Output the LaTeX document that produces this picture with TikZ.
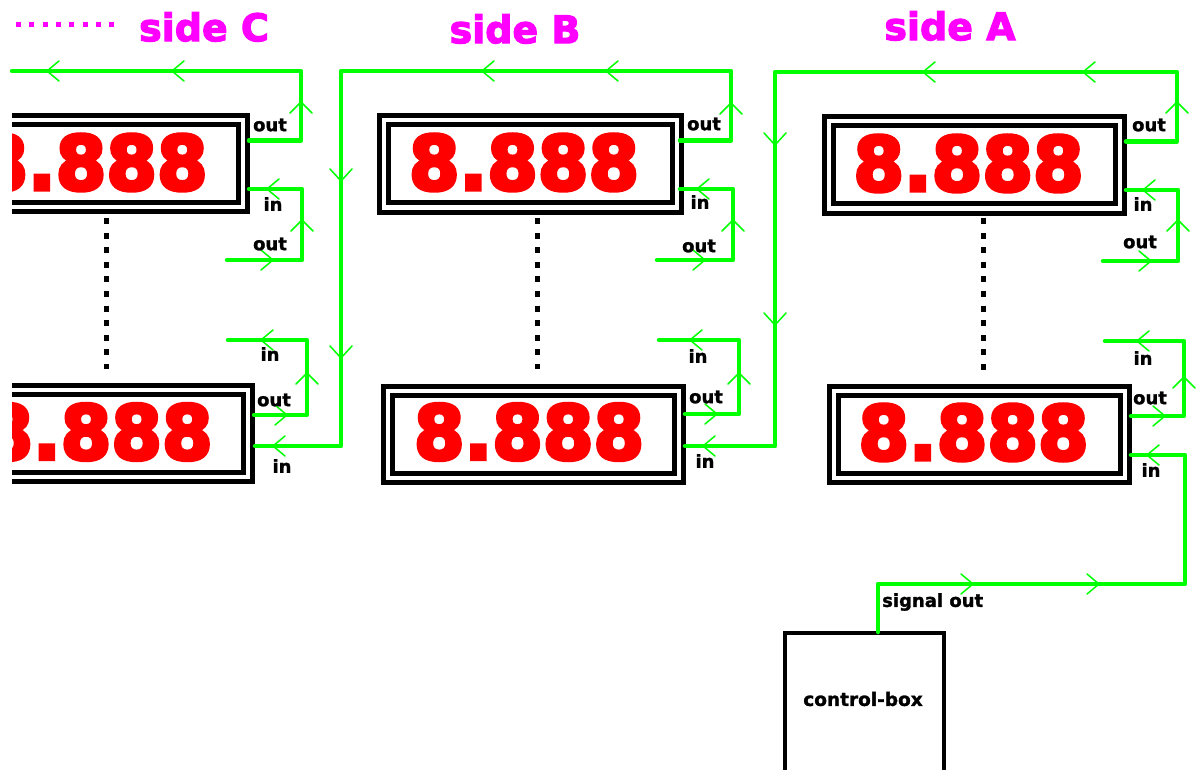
\documentclass[tikz,border=0pt]{standalone}
\usepackage{fontspec}
\setmainfont{DejaVu Sans}
\newfontfamily\digfont[UprightFont=* Bold,FakeBold=5]{DejaVu Sans}
\newfontfamily\lblfont[UprightFont=* Bold,FakeBold=1.5]{DejaVu Sans}
\newfontfamily\sidefont[UprightFont=* Bold,FakeBold=3]{DejaVu Sans}
\definecolor{wire}{RGB}{0,255,0}
\definecolor{digit}{RGB}{255,0,0}
\definecolor{sidec}{RGB}{255,0,255}
\tikzset{
  wirepath/.style={draw=wire,line width=4.5pt,line cap=round,line join=round},
  chev/.style={draw=wire,line width=1.5pt,line cap=round,line join=miter},
  frameout/.style={draw=black,line width=5pt,line join=miter,outer sep=0pt},
  framein/.style={draw=black,line width=5pt,line join=miter,outer sep=0pt},
  seven/.style={inner sep=0pt,text=digit,xscale=.97,font=\digfont\fontsize{75}{75}\selectfont},
  lbl/.style={inner sep=0pt,font=\lblfont\fontsize{18}{20}\selectfont},
  sidelbl/.style={inner sep=0pt,text=sidec,font=\sidefont\fontsize{38}{40}\selectfont},
  dots/.style={draw=black,line width=5pt,dash pattern=on 6pt off 8.6pt},
}
\newcommand{\dispbox}[5]{%
  \node[frameout,minimum width={#4-#2},minimum height={#5-#3},inner sep=0pt,anchor=north west] (#1) at (#2,#3) {};
  \node[framein,minimum width={#4-#2-18},minimum height={#5-#3-18},inner sep=0pt] (#1i) at (#1.center) {};
}
\begin{document}
\begin{tikzpicture}[x=1pt,y=-1pt]
\useasboundingbox (0,0) rectangle (1196,770);
\fill[white] (0,0) rectangle (1196,770);

% clipped side C displays
\begin{scope}
\clip (12,90) rectangle (300,500);
\dispbox{ct}{-60}{115.5}{247}{211.5}
\dispbox{cb}{-55}{385.5}{252}{481}
\node[seven] (ctd) at (92.5,162.5) {8.888};
\node[seven] (cbd) at (97.5,432) {8.888};
\end{scope}

\dispbox{bt}{379}{116}{681}{212}
\dispbox{bb}{383}{386}{683}{482}
\dispbox{at}{824}{117}{1124}{213}
\dispbox{ab}{829}{386}{1129}{482}
\node[seven] (btd) at (524,162.5) {8.888};
\node[seven] (bbd) at (529,432) {8.888};
\node[seven] (atd) at (968.5,163.5) {8.888};
\node[seven] (abd) at (973.5,432.5) {8.888};

\node[draw=black,line width=4.4pt,outer sep=0pt,minimum width=159pt,minimum height=150pt,inner sep=0pt,anchor=north west] (ctrl) at (785,633) {};
\node[inner sep=0pt,font=\lblfont\fontsize{18.5}{20}\selectfont] (ctrll) at (863,699) {control-box};

% dotted markers
\coordinate (mL) at (16,25); \coordinate (mR) at (114.1,25);
\draw[draw=sidec,line width=5pt,dash pattern=on 5pt off 8.3pt] (mL) -- (mR);
\coordinate (d1a) at (106,218); \coordinate (d1b) at (106,369);
\coordinate (d2a) at (537,218); \coordinate (d2b) at (537,369);
\coordinate (d3a) at (983,218); \coordinate (d3b) at (983,372);
\draw[dots] (d1a) -- (d1b);
\draw[dots] (d2a) -- (d2b);
\draw[dots] (d3a) -- (d3b);

% free ends
\coordinate (cEnd) at (12,71);
\coordinate (c1) at (227,260); \coordinate (c2) at (228,340);
\coordinate (b1) at (657,260); \coordinate (b2) at (659,340);
\coordinate (a1) at (1103,261); \coordinate (a2) at (1105,341);
% ports
\coordinate (ctO) at (249,140.5); \coordinate (ctI) at (249,189);
\coordinate (cbO) at (254,415); \coordinate (cbI) at (255,446);
\coordinate (btO) at (680,140.5); \coordinate (btI) at (680,189);
\coordinate (bbO) at (685,414); \coordinate (bbI) at (685,446);
\coordinate (atO) at (1126,141.5); \coordinate (atI) at (1126,190);
\coordinate (abO) at (1131,416); \coordinate (abI) at (1131,455);
\coordinate (ctrlT) at (878,632);

\draw[wirepath] (ctO) -- (301,140.5) -- (301,71) -- (cEnd);
\draw[wirepath] (ctI) -- (302,189) -- (302,260) -- (c1);
\draw[wirepath] (cbO) -- (307,415) -- (307,340) -- (c2);
\draw[wirepath] (cbI) -- (341,446) -- (341,71) -- (731,71) -- (731,140.5) -- (btO);
\draw[wirepath] (btI) -- (733,189) -- (733,260) -- (b1);
\draw[wirepath] (bbO) -- (739,414) -- (739,340) -- (b2);
\draw[wirepath] (bbI) -- (775,446) -- (775,72) -- (1177,72) -- (1177,141.5) -- (atO);
\draw[wirepath] (atI) -- (1178,190) -- (1178,261) -- (a1);
\draw[wirepath] (abO) -- (1184,416) -- (1184,341) -- (a2);
\draw[wirepath] (abI) -- (1185,455) -- (1185,584) -- (878,584) -- (ctrlT);

% arrowheads
\foreach \x/\y in {47/71,172/71,267/189,261/340,273/446,482/71,606/71,697/189,690/340,703/446,923/72,1083/72,1143/190,1137/341,1147/455}
  \draw[chev] (\x+12,\y-10) -- (\x,\y) -- (\x+12,\y+10);
\foreach \x/\y in {273/260,287/415,705/260,717/414,1151/261,1165/416,973/584,1099/584}
  \draw[chev] (\x-12,\y-10) -- (\x,\y) -- (\x-12,\y+10);
\foreach \x/\y in {301/102,302/220,307/373,731/103,733/220,739/373,1177/102,1178/220,1184/377}
  \draw[chev] (\x-11,\y+11) -- (\x,\y) -- (\x+11,\y+11);
\foreach \x/\y in {341/181,341/358,775/145,775/325}
  \draw[chev] (\x-11,\y-12) -- (\x,\y) -- (\x+11,\y-12);

% labels
\node[lbl] (l1) at (270,125) {out};
\node[lbl] (l2) at (273,204) {in};
\node[lbl] (l3) at (270,244) {out};
\node[lbl] (l4) at (270,354) {in};
\node[lbl] (l5) at (274,400) {out};
\node[lbl] (l6) at (282,466) {in};
\node[lbl] (l7) at (704,124) {out};
\node[lbl] (l8) at (700,202) {in};
\node[lbl] (l9) at (699,246) {out};
\node[lbl] (l10) at (698,356) {in};
\node[lbl] (l11) at (706,397) {out};
\node[lbl] (l12) at (705,461) {in};
\node[lbl] (l13) at (1149,125) {out};
\node[lbl] (l14) at (1143,204) {in};
\node[lbl] (l15) at (1140,242) {out};
\node[lbl] (l16) at (1143,358) {in};
\node[lbl] (l17) at (1150,398) {out};
\node[lbl] (l18) at (1151,470) {in};
\node[lbl,anchor=west] (l19) at (882,602) {signal out};

\node[sidelbl] (sc) at (204,27) {side C};
\node[sidelbl] (sb) at (515,29) {side B};
\node[sidelbl] (sa) at (950,26) {side A};
\end{tikzpicture}
\end{document}
